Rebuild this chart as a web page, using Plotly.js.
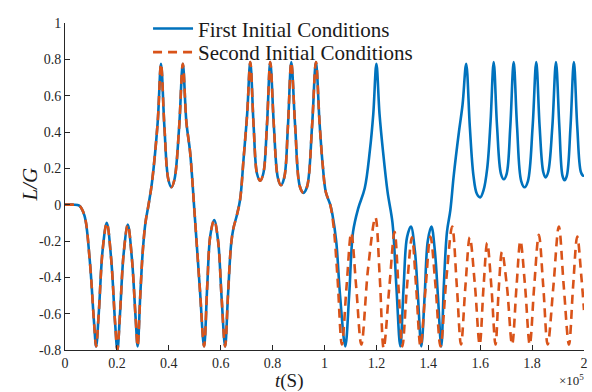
<!DOCTYPE html>
<html>
<head>
<meta charset="utf-8">
<script src="https://cdn.plot.ly/plotly-3.0.1.min.js"></script>
<style>
  html, body { margin: 0; padding: 0; background: #fff; }
  #chart { width: 592px; height: 392px; }
</style>
</head>
<body>
<div id="chart"></div>
<script>
// Time in units of 1e5 s; both runs coincide up to t ≈ 1.02e5 s.
const tShared = [0, 0.03, 0.055, 0.075, 0.095, 0.112, 0.12, 0.13, 0.145, 0.161, 0.178, 0.193, 0.202, 0.212, 0.226, 0.242, 0.258, 0.272, 0.28, 0.29, 0.30, 0.31, 0.322, 0.335, 0.357, 0.37, 0.383, 0.398, 0.41, 0.422, 0.44, 0.454, 0.468, 0.482, 0.50, 0.52, 0.536, 0.548, 0.56, 0.575, 0.59, 0.603, 0.617, 0.628, 0.64, 0.649, 0.662, 0.675, 0.688, 0.702, 0.714, 0.727, 0.740, 0.752, 0.764, 0.778, 0.791, 0.805, 0.82, 0.832, 0.845, 0.859, 0.872, 0.887, 0.905, 0.919, 0.933, 0.952, 0.967, 0.981, 0.993, 1.005, 1.022];
const yShared = [0, 0, -0.005, -0.06, -0.3, -0.65, -0.78, -0.6, -0.25, -0.10, -0.3, -0.65, -0.80, -0.6, -0.27, -0.11, -0.3, -0.62, -0.78, -0.5, -0.25, -0.1, 0.0, 0.12, 0.45, 0.775, 0.43, 0.14, 0.096, 0.14, 0.43, 0.775, 0.45, 0.29, -0.06, -0.47, -0.78, -0.45, -0.17, -0.085, -0.2, -0.5, -0.78, -0.5, -0.22, -0.13, -0.06, 0.03, 0.25, 0.5, 0.785, 0.43, 0.17, 0.132, 0.17, 0.43, 0.785, 0.43, 0.15, 0.107, 0.15, 0.43, 0.785, 0.43, 0.1, 0.065, 0.1, 0.43, 0.785, 0.45, 0.22, 0.07, 0.0];

// First initial conditions after divergence
const tFirst = [1.03, 1.045, 1.06, 1.08, 1.095, 1.11, 1.13, 1.155, 1.175, 1.188, 1.20, 1.212, 1.225, 1.243, 1.262, 1.277, 1.292, 1.305, 1.318, 1.333, 1.348, 1.36, 1.373, 1.386, 1.398, 1.412, 1.425, 1.437, 1.45, 1.46, 1.472, 1.485, 1.498, 1.518, 1.532, 1.546, 1.56, 1.574, 1.587, 1.60, 1.613, 1.627, 1.64, 1.652, 1.665, 1.68, 1.691, 1.702, 1.716, 1.729, 1.742, 1.758, 1.771, 1.784, 1.802, 1.816, 1.829, 1.843, 1.852, 1.862, 1.878, 1.892, 1.905, 1.917, 1.925, 1.934, 1.948, 1.961, 1.974, 1.988, 1.997, 2.0];
const yFirst = [-0.05, -0.2, -0.5, -0.78, -0.5, -0.15, -0.02, 0.09, 0.3, 0.5, 0.775, 0.5, 0.3, 0.07, -0.1, -0.45, -0.78, -0.45, -0.18, -0.12, -0.25, -0.5, -0.78, -0.5, -0.2, -0.12, -0.25, -0.5, -0.78, -0.44, -0.15, -0.03, 0.16, 0.4, 0.55, 0.775, 0.43, 0.16, 0.06, 0.04, 0.08, 0.2, 0.46, 0.785, 0.43, 0.17, 0.14, 0.17, 0.43, 0.785, 0.43, 0.13, 0.096, 0.13, 0.43, 0.785, 0.43, 0.18, 0.15, 0.18, 0.43, 0.785, 0.43, 0.16, 0.134, 0.16, 0.43, 0.785, 0.43, 0.18, 0.16, 0.165];

// Second initial conditions after divergence
const tSecond = [1.035, 1.05, 1.067, 1.085, 1.103, 1.122, 1.142, 1.168, 1.196, 1.213, 1.228, 1.25, 1.27, 1.285, 1.30, 1.318, 1.337, 1.353, 1.37, 1.39, 1.408, 1.428, 1.447, 1.47, 1.492, 1.51, 1.526, 1.543, 1.56, 1.58, 1.598, 1.613, 1.627, 1.643, 1.659, 1.672, 1.684, 1.703, 1.723, 1.74, 1.755, 1.773, 1.791, 1.808, 1.826, 1.843, 1.86, 1.882, 1.903, 1.922, 1.942, 1.958, 1.974, 1.99, 2.0];
const ySecond = [-0.12, -0.4, -0.77, -0.45, -0.155, -0.45, -0.77, -0.35, -0.07, -0.4, -0.79, -0.45, -0.15, -0.45, -0.78, -0.45, -0.18, -0.45, -0.78, -0.45, -0.175, -0.45, -0.78, -0.4, -0.12, -0.45, -0.77, -0.45, -0.18, -0.45, -0.77, -0.45, -0.21, -0.45, -0.77, -0.45, -0.26, -0.45, -0.77, -0.45, -0.2, -0.45, -0.77, -0.45, -0.166, -0.45, -0.77, -0.45, -0.12, -0.45, -0.77, -0.45, -0.175, -0.4, -0.58];

const seriesNames = ['First Initial Conditions', 'Second Initial Conditions'];
const xTickVals = [0, 0.2, 0.4, 0.6, 0.8, 1, 1.2, 1.4, 1.6, 1.8, 2];
const yTickVals = [-0.8, -0.6, -0.4, -0.2, 0, 0.2, 0.4, 0.6, 0.8, 1];

const serif = '"Liberation Serif", "Times New Roman", serif';
const axisColor = '#262626';
const textColor = '#1a1a1a';

const traces = [
  {
    x: tShared.concat(tFirst),
    y: yShared.concat(yFirst),
    name: seriesNames[0],
    mode: 'lines',
    legend: 'legend',
    line: { color: '#0072BD', width: 2.6, shape: 'spline', smoothing: 1 }
  },
  {
    x: tShared.concat(tSecond),
    y: yShared.concat(ySecond),
    name: seriesNames[1],
    mode: 'lines',
    legend: 'legend2',
    line: { color: '#D95319', width: 2.6, shape: 'spline', smoothing: 1, dash: '9px,6px' }
  }
];

const axisCommon = {
  showline: true, linecolor: axisColor, linewidth: 1,
  ticks: 'inside', ticklen: 5, tickcolor: axisColor, tickwidth: 1,
  showgrid: false, zeroline: false,
  tickfont: { family: serif, size: 14, color: axisColor }
};

// one legend box per row so the row spacing stays tight
const legendBase = {
  x: 0.16, xanchor: 'left', yanchor: 'middle',
  bgcolor: 'rgba(0,0,0,0)', borderwidth: 0,
  font: { family: serif, size: 21, color: textColor },
  itemwidth: 40
};

const layout = {
  width: 592, height: 392,
  margin: { l: 65, r: 8, t: 18, b: 42 },
  paper_bgcolor: '#fff', plot_bgcolor: '#fff',
  showlegend: true,
  legend: Object.assign({}, legendBase, { y: 0.982 }),
  legend2: Object.assign({}, legendBase, { y: 0.91 }),
  xaxis: Object.assign({}, axisCommon, {
    range: [0, 2], tickvals: xTickVals, ticktext: xTickVals.map(String)
  }),
  yaxis: Object.assign({}, axisCommon, {
    range: [-0.8, 1], tickvals: yTickVals, ticktext: yTickVals.map(String)
  }),
  annotations: [
    {
      xref: 'paper', yref: 'paper', x: 0.4316, y: -0.095, xanchor: 'center', yanchor: 'middle',
      text: '<i>t</i>(S)', showarrow: false,
      font: { family: serif, size: 19, color: textColor }
    },
    {
      xref: 'paper', yref: 'paper', x: -0.0674, y: 0.506, xanchor: 'center', yanchor: 'middle',
      text: '<i>L/G</i>', textangle: -90, showarrow: false,
      font: { family: serif, size: 21, color: textColor }
    },
    {
      xref: 'paper', yref: 'paper', x: 1.004, y: -0.093, xanchor: 'right', yanchor: 'middle',
      text: '×10<sup>5</sup>', showarrow: false,
      font: { family: serif, size: 13, color: axisColor }
    }
  ]
};

Plotly.newPlot('chart', traces, layout, { displayModeBar: false, staticPlot: true });
</script>
</body>
</html>
